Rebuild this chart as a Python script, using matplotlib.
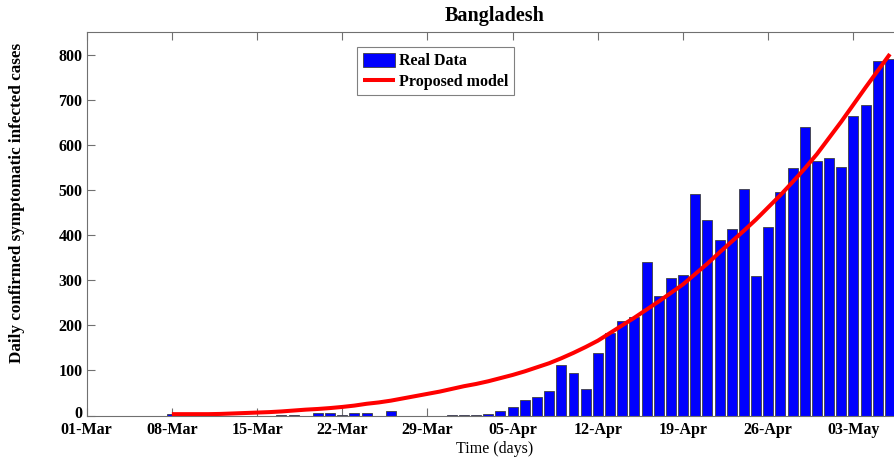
import numpy as np
import matplotlib
matplotlib.use("Agg")
import matplotlib.pyplot as plt
import matplotlib.transforms as mtransforms

# ---- data (day 0 = 01-Mar) ----
cases = [0, 0, 0, 0, 0, 0, 0, 3, 0, 0,          # 01-10 Mar
         0, 0, 0, 0, 0, 0, 2, 2, 0, 6,          # 11-20 Mar
         6, 2, 5, 5, 0, 9, 0, 0, 0, 0,          # 21-30 Mar
         1, 2, 2, 4, 9, 18, 35, 41, 54, 112,    # 31 Mar - 09 Apr
         94, 58, 139, 182, 209, 219, 341, 266, 306, 312,   # 10-19 Apr
         492, 434, 390, 414, 503, 309, 418, 497, 549, 641, # 20-29 Apr
         564, 571, 552, 665, 688, 786, 790]     # 30 Apr - 06 May

model_days = list(range(7, 67))
model_vals = [3, 3, 3, 3, 3.5, 4.5, 5.5, 6.5, 7.5, 9,
              11, 13, 14.5, 16.5, 19, 22, 26, 29, 33, 38,
              43, 48, 53, 59, 65, 70, 76, 83, 90, 98,
              107, 116, 127, 139, 152, 166, 183, 200, 217, 235,
              253, 272, 291, 314, 337, 362, 386, 410, 435, 462,
              489, 518, 548, 580, 616, 652, 690, 728, 765, 802]

tick_days = [0, 7, 14, 21, 28, 35, 42, 49, 56, 63]
tick_labels = ["01-Mar", "08-Mar", "15-Mar", "22-Mar", "29-Mar",
               "05-Apr", "12-Apr", "19-Apr", "26-Apr", "03-May"]
y_ticks = [0, 100, 200, 300, 400, 500, 600, 700, 800]

# ---- style ----
plt.rcParams['font.family'] = ['Liberation Serif', 'DejaVu Serif']
FS = 11.5
axcol = '#707070'

fig = plt.figure(figsize=(8.95, 4.59), dpi=100)
W, H = 895, 459
left_px, bottom_px, top_px = 86.7, 415.5, 32
px_per_day = 12.17
xmax = 67
ax = fig.add_axes([left_px / W, (H - bottom_px) / H,
                   xmax * px_per_day / W, (bottom_px - top_px) / H])

days = np.arange(len(cases))
bars = ax.bar(days, cases, width=0.82, color='#0000ff', edgecolor='#404040',
              linewidth=0.6, label='Real Data', zorder=2)
line, = ax.plot(model_days, model_vals, color='#ff0000', lw=2.9,
                label='Proposed model', zorder=3, solid_capstyle='butt')

ax.set_xlim(0, xmax)
ax.set_ylim(0, 851)
ax.set_xticks(tick_days)
ax.set_xticklabels(tick_labels, fontweight='bold', fontsize=FS)
ax.set_yticks(y_ticks)
ax.set_yticklabels([str(v) for v in y_ticks], fontweight='bold', fontsize=FS)

for s in ax.spines.values():
    s.set_color(axcol)
    s.set_linewidth(0.8)
ax.tick_params(axis='both', direction='in', length=5.5, width=0.8,
               color=axcol, top=True, right=True, labelcolor='black')
ax.tick_params(axis='x', pad=5)
ax.tick_params(axis='y', pad=3)

# lift the "0" label slightly, as in the reference
zero_lbl = ax.get_yticklabels()[0]
zero_lbl.set_transform(zero_lbl.get_transform() +
                       mtransforms.ScaledTranslation(0, 4 / 100, fig.dpi_scale_trans))

ax.set_title('Bangladesh', fontweight='bold', fontsize=14.5, pad=8)
ax.set_xlabel('Time (days)', fontsize=FS, labelpad=0)
ax.set_ylabel('Daily confirmed symptomatic infected cases',
              fontweight='bold', fontsize=12.3)
ax.yaxis.set_label_coords(-0.0755, 0.555)
ax.xaxis.set_label_coords(0.5, -0.066)

leg = ax.legend(handles=[bars, line], labels=['Real Data', 'Proposed model'],
                loc='upper left', bbox_to_anchor=(357 / W, 1 - 47 / H),
                bbox_transform=fig.transFigure, prop={'weight': 'bold', 'size': FS},
                fancybox=False, framealpha=1, edgecolor='#808080',
                handlelength=2.0, handleheight=1.0, handletextpad=0.3,
                labelspacing=0.25, borderpad=0.35, borderaxespad=0)
leg.get_frame().set_linewidth(0.8)

fig.savefig('out.png', dpi=100)
